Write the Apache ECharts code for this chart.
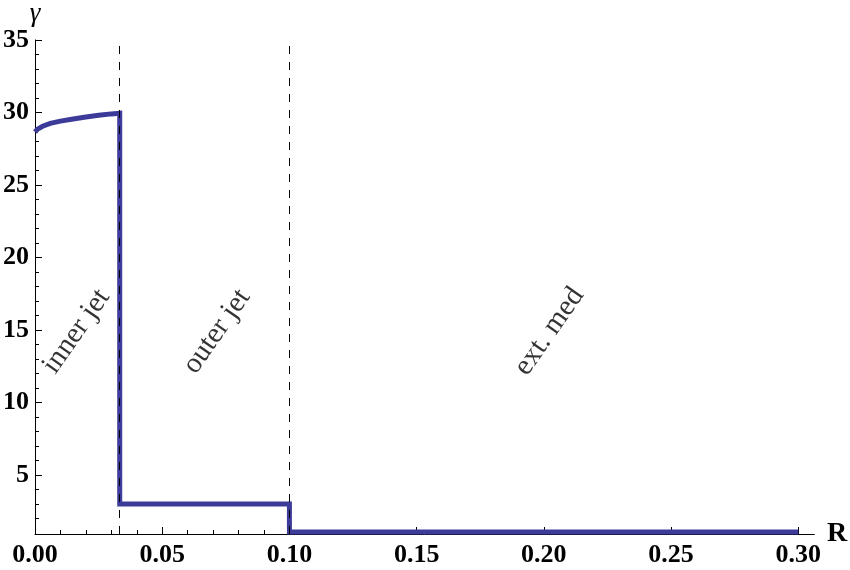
<!DOCTYPE html>
<html>
<head>
<meta charset="utf-8">
<script src="https://cdn.jsdelivr.net/npm/echarts@6/dist/echarts.min.js"></script>
<style>
    html, body {margin: 0; padding: 0; background: #ffffff;}
    #gamma-map {width: 850px; height: 570px;}
</style>
</head>
<body>
<div id="gamma-map"></div>
<script>
// 读图数据
let innerR = [0, 0.001, 0.003, 0.006, 0.010, 0.015, 0.020, 0.025, 0.030, 0.0333];
let innerGamma = [28.65, 28.85, 29.05, 29.25, 29.4, 29.55, 29.68, 29.8, 29.9, 29.95];
let outerR = [0.0333, 0.1];
let outerGamma = 3.0;
let extR = [0.1, 0.3];
let extGamma = 1.08;
let boundaries = [0.0333, 0.1];
let regionNames = ['inner jet', 'outer jet', 'ext. med'];
let regionR = [0.0163, 0.0715, 0.2022];
let regionGamma = 14.9;
let xTicks = [0, 0.05, 0.10, 0.15, 0.20, 0.25, 0.30];
let xMinorTicks = [];
let yTicks = [5, 10, 15, 20, 25, 30, 35];
let yMinorTicks = [];
for (let i = 1; i < 30; i += 1) {
    if (i % 5 !== 0) {
        xMinorTicks.push(i / 100);
    }
}
for (let i = 2; i < 35; i += 1) {
    if (i % 5 !== 0) {
        yMinorTicks.push(i);
    }
}

let lineColor = '#3d3b99';
let serif = '"Liberation Serif", "DejaVu Serif", serif';

// 拼出折线
let curve = innerR.map((r, i) => [r, innerGamma[i]]);
curve.push([outerR[0], outerGamma]);
curve.push([outerR[1], outerGamma]);
curve.push([extR[0], extGamma]);
curve.push([extR[1], extGamma]);

let xMin = 0;
let xMax = 0.3063;
let yMin = 0.94;
let yMax = 35;

let option = {
    animation: false,
    grid: {
        left: 33,
        right: 30,
        top: 39,
        bottom: 36,
        containLabel: false
    },
    xAxis: [
        {
            type: 'value',
            min: xMin,
            max: xMax,
            name: 'R',
            nameLocation: 'end',
            nameGap: 7,
            nameTextStyle: {
                fontFamily: serif,
                fontWeight: 'bold',
                fontSize: 28,
                color: '#000000'
            },
            splitLine: {show: false},
            axisLine: {lineStyle: {color: '#000000', width: 1}},
            axisTick: {
                inside: true,
                length: 7,
                lineStyle: {color: '#000000'},
                customValues: xTicks
            },
            axisLabel: {
                customValues: xTicks,
                margin: 8,
                fontFamily: serif,
                fontWeight: 'bold',
                fontSize: 26,
                color: '#000000',
                formatter: (v) => v.toFixed(2)
            }
        },
        {
            type: 'value',
            min: xMin,
            max: xMax,
            position: 'bottom',
            splitLine: {show: false},
            axisLine: {show: false},
            axisLabel: {show: false},
            axisTick: {
                inside: true,
                length: 4,
                lineStyle: {color: '#000000'},
                customValues: xMinorTicks
            }
        }
    ],
    yAxis: [
        {
            type: 'value',
            min: yMin,
            max: yMax,
            name: 'γ',
            nameLocation: 'end',
            nameGap: 10,
            nameTextStyle: {
                fontFamily: serif,
                fontStyle: 'italic',
                fontSize: 27,
                color: '#000000',
                align: 'center'
            },
            splitLine: {show: false},
            axisLine: {lineStyle: {color: '#000000', width: 1}},
            axisTick: {
                inside: true,
                length: 7,
                lineStyle: {color: '#000000'},
                customValues: yTicks
            },
            axisLabel: {
                customValues: yTicks,
                margin: 6,
                fontFamily: serif,
                fontWeight: 'bold',
                fontSize: 26,
                color: '#000000'
            }
        },
        {
            type: 'value',
            min: yMin,
            max: yMax,
            position: 'left',
            splitLine: {show: false},
            axisLine: {show: false},
            axisLabel: {show: false},
            axisTick: {
                inside: true,
                length: 4,
                lineStyle: {color: '#000000'},
                customValues: yMinorTicks
            }
        }
    ],
    series: [
        {
            name: 'gamma',
            type: 'line',
            data: curve,
            showSymbol: false,
            smooth: false,
            lineStyle: {color: lineColor, width: 5, join: 'miter'},
            markLine: {
                silent: true,
                symbol: ['none', 'none'],
                label: {show: false},
                lineStyle: {color: '#000000', width: 1, type: [8, 8]},
                data: boundaries.map((b) => [{coord: [b, yMin]}, {coord: [b, 34.65]}])
            }
        },
        {
            name: 'regions',
            type: 'scatter',
            symbolSize: 0,
            data: regionNames.map((n, i) => ({value: [regionR[i], regionGamma], name: n})),
            label: {
                show: true,
                position: 'inside',
                rotate: 55,
                formatter: (p) => p.name,
                fontFamily: serif,
                fontSize: 29,
                color: '#000000'
            }
        }
    ]
};

let gammaMap = echarts.init(document.getElementById('gamma-map'));
gammaMap.setOption(option);
</script>
</body>
</html>
